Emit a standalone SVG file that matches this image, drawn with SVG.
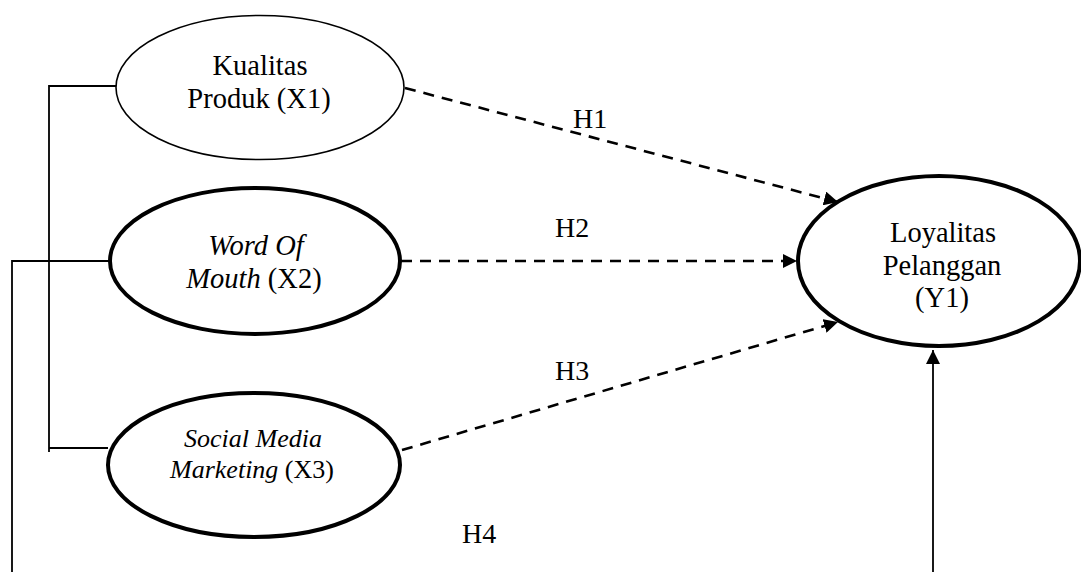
<svg xmlns="http://www.w3.org/2000/svg" width="1081" height="572" viewBox="0 0 1081 572">
  <style>
    .bg { fill: #ffffff; }
    .node { fill: #ffffff; stroke: #000000; }
    .thin { stroke-width: 1.6; }
    .thick { stroke-width: 4; }
    .label { font-family: "Liberation Serif", "Times New Roman", serif; font-size: 28.5px; fill: #000000; text-anchor: middle; }
    .small { font-size: 26px; }
    .hyp { font-family: "Liberation Serif", "Times New Roman", serif; font-size: 28px; fill: #000000; }
    .it { font-style: italic; }
    .link { fill: none; stroke: #000000; stroke-width: 1.8; }
    .dash { fill: none; stroke: #000000; stroke-width: 2.6; stroke-dasharray: 11 8; }
  </style>
  <defs>
    <marker id="arrow" viewBox="0 0 14 14" refX="14" refY="7" markerWidth="14" markerHeight="14" markerUnits="userSpaceOnUse" orient="auto">
      <path d="M0,0 L14,7 L0,14 Z" fill="#000000"/>
    </marker>
  </defs>
  <rect class="bg" x="0" y="0" width="1081" height="572"/>

  <!-- connectors -->
  <g id="connectors">
    <!-- bracket joining X1 and X3 -->
    <polyline class="link" points="116,86 49,86 49,452"/>
    <line class="link" x1="49" y1="448" x2="108" y2="448"/>
    <!-- line from X2 running down and round to Y1 -->
    <polyline class="link" points="109,261 12,261 12,572"/>
    <line class="link" x1="933" y1="572" x2="933" y2="350" marker-end="url(#arrow)"/>
    <!-- hypothesis paths -->
    <line class="dash" x1="405" y1="88" x2="838" y2="202" marker-end="url(#arrow)"/>
    <line class="dash" x1="401" y1="261" x2="797" y2="261" marker-end="url(#arrow)"/>
    <line class="dash" x1="402" y1="450" x2="838" y2="322" marker-end="url(#arrow)"/>
  </g>

  <!-- hypothesis labels -->
  <g id="labels">
    <text class="hyp" x="573" y="128">H1</text>
    <text class="hyp" x="555" y="237">H2</text>
    <text class="hyp" x="555" y="380">H3</text>
    <text class="hyp" x="462" y="543">H4</text>
  </g>

  <g id="x1">
    <ellipse class="node thin" cx="260" cy="87.5" rx="144" ry="72"/>
    <text class="label" x="260" y="75">Kualitas</text>
    <text class="label" x="259" y="108">Produk (X1)</text>
  </g>

  <g id="x2">
    <ellipse class="node thick" cx="255" cy="261" rx="145" ry="73"/>
    <text class="label it" x="256" y="255">Word Of</text>
    <text class="label" x="254" y="288"><tspan class="it">Mouth</tspan> (X2)</text>
  </g>

  <g id="x3">
    <ellipse class="node thick" cx="254" cy="465" rx="146" ry="72"/>
    <text class="label small it" x="253" y="447">Social Media</text>
    <text class="label small" x="252" y="478"><tspan class="it">Marketing</tspan> (X3)</text>
  </g>

  <g id="y1">
    <ellipse class="node thick" cx="939" cy="261" rx="141" ry="85"/>
    <text class="label" x="943" y="242">Loyalitas</text>
    <text class="label" x="942" y="275">Pelanggan</text>
    <text class="label" x="942" y="307">(Y1)</text>
  </g>
</svg>
